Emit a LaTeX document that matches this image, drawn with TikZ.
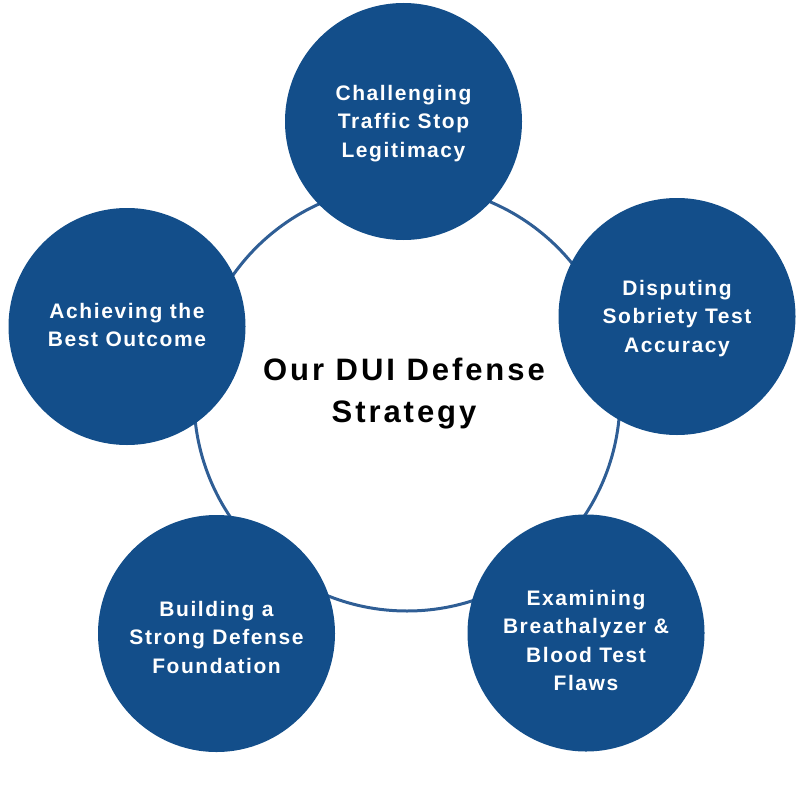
\documentclass[tikz,border=0pt]{standalone}
\usepackage{fontspec}
\newfontfamily\labfont{Liberation Sans Bold}[LetterSpace=7.5]
\newfontfamily\titfont{Liberation Sans Bold}[LetterSpace=9.5]
\definecolor{dblue}{HTML}{134E8A}
\definecolor{ringblue}{HTML}{2F5E95}
\begin{document}
\begin{tikzpicture}[x=1pt,y=-1pt,
  bubble/.style={circle,fill=dblue,draw=none,minimum size=237pt,inner sep=0pt},
  lab/.style={text=white,align=center,font=\labfont\fontsize{21}{28.5}\selectfont},
  ringline/.style={draw=ringblue,line width=3pt,circle,minimum size=426pt,inner sep=0pt}]
\useasboundingbox (0,0) rectangle (800,800);
\node[ringline] (ring) at (407,398) {};
\node[bubble] (c1) at (403.5,121.5) {};
\node[bubble] (c2) at (677,316.5) {};
\node[bubble] (c3) at (586,633) {};
\node[bubble] (c4) at (216.5,633.5) {};
\node[bubble] (c5) at (127,326.5) {};
\node[lab] (t1) at (403.5,123.5) {Challenging\\Traffic Stop\\Legitimacy};
\node[lab] (t2) at (677,318.5) {Disputing\\Sobriety Test\\Accuracy};
\node[lab] (t3) at (586,640.5) {Examining\\Breathalyzer \&\\Blood Test\\Flaws};
\node[lab] (t4) at (216.5,637) {Building a\\Strong Defense\\Foundation};
\node[lab] (t5) at (127,325) {Achieving the\\Best Outcome};
\node[align=center,font=\titfont\fontsize{31}{42}\selectfont] (title) at (404,394) {Our DUI Defense\\Strategy};
\end{tikzpicture}
\end{document}
